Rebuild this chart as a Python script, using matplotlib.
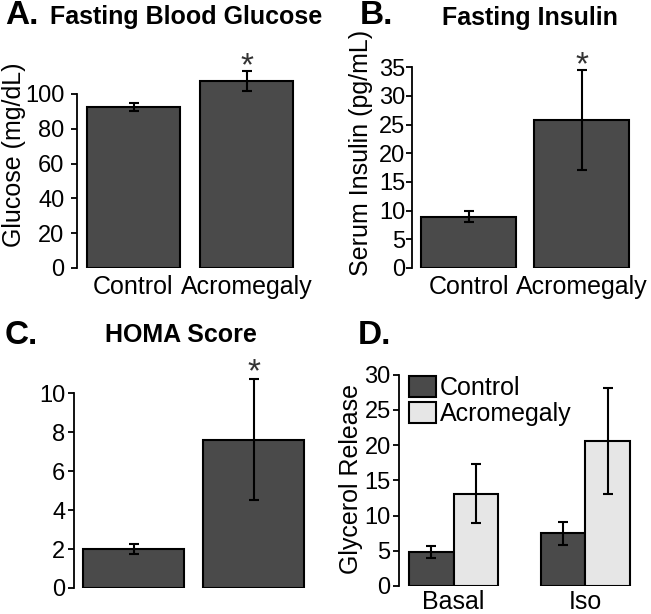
import numpy as np
from matplotlib import pyplot as plt

# данные

groups = ["Control", "Acromegaly"]

glucose_mean = [92.5, 107.5]
glucose_err = [2.3, 5.5]

insulin_mean = [8.9, 25.8]
insulin_err = [0.95, 8.7]

homa_mean = [2.0, 7.6]
homa_err = [0.26, 3.1]

conditions = ["Basal", "Iso"]
glycerol_control = [4.8, 7.5]
glycerol_control_err = [0.85, 1.65]
glycerol_acro = [13.1, 20.6]
glycerol_acro_err = [4.15, 7.5]

dark = "#4a4a4a"
light = "#e6e6e6"

plt.rcParams["font.family"] = ["Liberation Sans", "DejaVu Sans"]

W, H = 651, 614
fig = plt.figure(figsize=(W / 100, H / 100), dpi=100)


def px_axes(left, bottom, width, height):
    # оси по пиксельным координатам (bottom отсчитывается сверху)
    return fig.add_axes([left / W, 1 - bottom / H, width / W, height / H])


def style(ax, top_tick, step, pad=2):
    for s in ["top", "right", "bottom"]:
        ax.spines[s].set_visible(False)
    ax.spines["left"].set_linewidth(1.3)
    ax.spines["left"].set_bounds(0, top_tick)
    ax.set_yticks(np.arange(0, top_tick + step / 2, step))
    ax.tick_params(axis="y", labelsize=17, length=4, width=1.3, pad=pad)
    ax.tick_params(axis="x", labelsize=18, length=0, pad=5)


def two_bars(ax, means, errs, width, star_off):
    x = np.arange(len(means))
    ax.bar(x, means, width, color=dark, edgecolor="black", linewidth=1.5, zorder=2)
    ax.errorbar(x, means, yerr=errs, fmt="none", ecolor="black", elinewidth=1.5,
                capsize=3.6, capthick=1.5, zorder=3)
    ax.annotate("*", (1, means[1] + errs[1]), xytext=(0, star_off), textcoords="offset points",
                ha="center", va="center", fontsize=24, color="#333333")
    ax.set_xlim(-0.5, 1.5)


# A. глюкоза
ax = px_axes(77, 268, 226, 217.5)
two_bars(ax, glucose_mean, glucose_err, 0.83, 3)
ax.set_ylim(0, 125)
style(ax, 100, 20, pad=5)
ax.set_xticks([0, 1], groups)
ax.set_ylabel("Glucose (mg/dL)", fontsize=18)
ax.yaxis.set_label_coords(-0.225, 0.52)

# B. инсулин
ax = px_axes(412, 268, 226, 218)
two_bars(ax, insulin_mean, insulin_err, 0.84, 3)
ax.set_ylim(0, 38)
style(ax, 35, 5, pad=1)
ax.set_xticks([0, 1], groups)
ax.set_ylabel("Serum Insulin (pg/mL)", fontsize=18)
ax.yaxis.set_label_coords(-0.173, 0.53)

# C. HOMA
ax = px_axes(73.5, 588, 240, 230)
two_bars(ax, homa_mean, homa_err, 0.84, 4.5)
ax.set_ylim(0, 11.8)
style(ax, 10, 2, pad=2)
ax.set_xticks([])

# D. глицерол
ax = px_axes(399, 586, 241, 215)
x = np.arange(len(conditions))
w = 0.337
ax.bar(x - w / 2, glycerol_control, w, color=dark, edgecolor="black", linewidth=1.5,
       label="Control", zorder=2)
ax.bar(x + w / 2, glycerol_acro, w, color=light, edgecolor="black", linewidth=1.5,
       label="Acromegaly", zorder=2)
ax.errorbar(x - w / 2, glycerol_control, yerr=glycerol_control_err, fmt="none",
            ecolor="black", elinewidth=1.5, capsize=3.6, capthick=1.5, zorder=3)
ax.errorbar(x + w / 2, glycerol_acro, yerr=glycerol_acro_err, fmt="none",
            ecolor="black", elinewidth=1.5, capsize=3.6, capthick=1.5, zorder=3)
ax.set_xlim(-0.413, 1.413)
ax.set_ylim(0, 30.5)
style(ax, 30, 5, pad=2)
ax.set_xticks(x, conditions)
ax.tick_params(axis="x", pad=3)
ax.set_ylabel("Glycerol Release", fontsize=18)
ax.yaxis.set_label_coords(-0.15, 0.5)
ax.legend(loc="upper left", bbox_to_anchor=(0.04, 0.977), frameon=False, fontsize=18,
          borderpad=0, borderaxespad=0, handlelength=1.1, handleheight=0.9,
          handletextpad=0.15, labelspacing=0.1)

# заголовки и буквы панелей
fig.text(5 / W, 1 - 15 / H, "A.", fontsize=24, fontweight="bold", ha="left", va="center")
fig.text(186 / W, 1 - 17 / H, "Fasting Blood Glucose", fontsize=18, fontweight="bold",
         ha="center", va="center")
fig.text(360 / W, 1 - 15 / H, "B.", fontsize=24, fontweight="bold", ha="left", va="center")
fig.text(530 / W, 1 - 18 / H, "Fasting Insulin", fontsize=18, fontweight="bold",
         ha="center", va="center")
fig.text(5 / W, 1 - 335 / H, "C.", fontsize=24, fontweight="bold", ha="left", va="center")
fig.text(181 / W, 1 - 335 / H, "HOMA Score", fontsize=18, fontweight="bold",
         ha="center", va="center")
fig.text(358 / W, 1 - 336 / H, "D.", fontsize=24, fontweight="bold", ha="left", va="center")

fig.savefig("out.png", dpi=100)
